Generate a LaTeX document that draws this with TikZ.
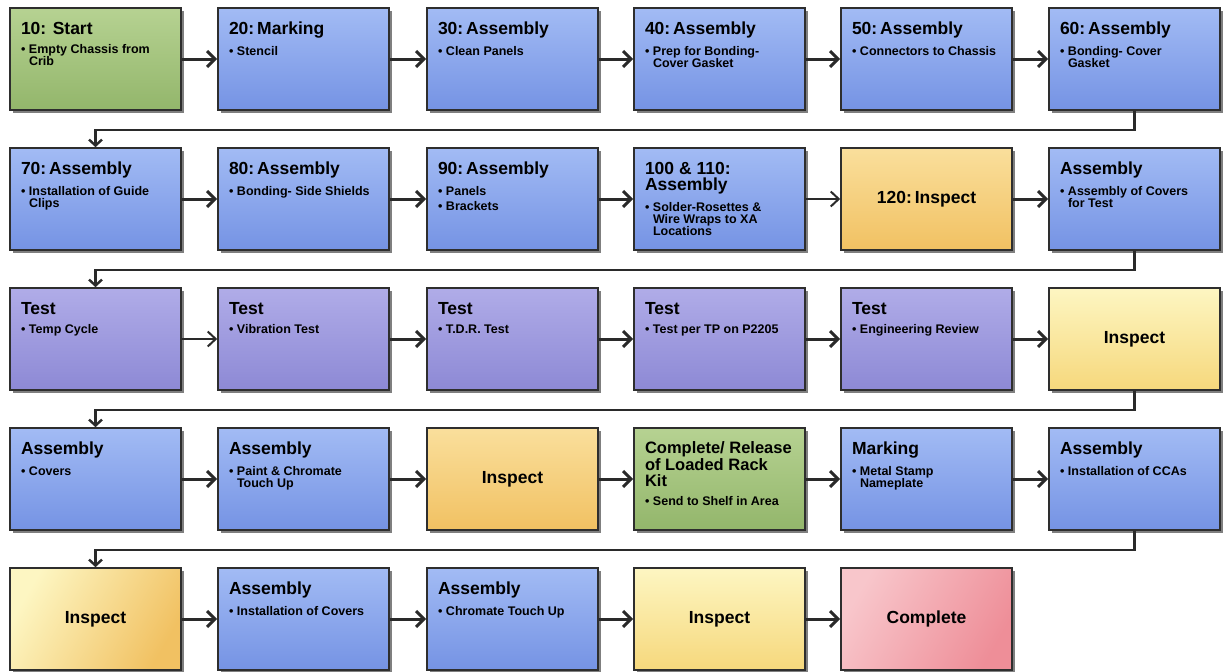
\documentclass[tikz,border=0pt]{standalone}
\usepackage{fontspec}
\setmainfont{Liberation Sans}
\usetikzlibrary{arrows.meta,shadows}

% box fills
\definecolor{bluT}{HTML}{A2BBF4}\definecolor{bluM}{HTML}{8BA7EE}\definecolor{bluB}{HTML}{7593E4}
\definecolor{grnT}{HTML}{B6D292}\definecolor{grnB}{HTML}{93B66B}
\definecolor{purT}{HTML}{B0ACE8}\definecolor{purM}{HTML}{9F9BDF}\definecolor{purB}{HTML}{8D89D5}
\definecolor{orgT}{HTML}{FADF9C}\definecolor{orgB}{HTML}{F1C162}
\definecolor{yelT}{HTML}{FDF6C2}\definecolor{yelB}{HTML}{F6D87C}
\definecolor{pnkT}{HTML}{F8C6CB}\definecolor{pnkB}{HTML}{EE8E98}
\definecolor{edge}{HTML}{2E2E2E}
\definecolor{wire}{HTML}{2A2A2A}

% step box text: bold title, then bullet lines with hanging indent
\newcommand\ttl[1]{{\fontsize{17.5}{16.5}\selectfont\bfseries #1\par}}
\newcommand\itm[1]{{\fontsize{12.5}{12}\selectfont\bfseries\hangindent=8pt\hangafter=1\noindent\hbox to 8pt{\textbullet\hfil}#1\par}}
\newcommand\stp[2]{\hspace*{11pt}\begin{minipage}[c][74pt][t]{156pt}\raggedright\ttl{#1}\vspace{7pt}#2\end{minipage}\hspace*{4pt}}

\tikzset{
  stepbox/.style={draw=edge, line width=1.6pt, minimum width=171pt, minimum height=102pt,
    inner sep=0pt, font=\bfseries\fontsize{17.5}{17}\selectfont,
    drop shadow={shadow xshift=2.5pt, shadow yshift=-2.5pt, opacity=0.5, fill=black}},
  blu/.style={stepbox, top color=bluT, middle color=bluM, bottom color=bluB},
  grn/.style={stepbox, top color=grnT, bottom color=grnB},
  pur/.style={stepbox, top color=purT, middle color=purM, bottom color=purB},
  org/.style={stepbox, top color=orgT, bottom color=orgB},
  yel/.style={stepbox, top color=yelT, bottom color=yelB},
  yor/.style={stepbox, left color=yelT, right color=orgB, shading angle=60},
  pnk/.style={stepbox, left color=pnkT, right color=pnkB, shading angle=60},
  flow/.style={draw=wire, line width=3pt, -{Straight Barb[length=8pt,width=16pt]}},
  liteflow/.style={draw=wire, line width=2pt, -{Straight Barb[length=8pt,width=15pt]}},
  ret/.style={draw=wire, line width=2.4pt, -{Straight Barb[length=6pt,width=13pt]}}
}

\begin{document}
\begin{tikzpicture}[x=1pt,y=-1pt]
\useasboundingbox[fill=white] (0,0) rectangle (1224,672);

% row 1
\node[grn] (a1) at (95.5,59)   {\stp{10: Start}{\itm{Empty Chassis from\newline Crib}}};
\node[blu] (a2) at (303.5,59)  {\stp{20:\,Marking}{\itm{Stencil}}};
\node[blu] (a3) at (512.5,59)  {\stp{30:\,Assembly}{\itm{Clean Panels}}};
\node[blu] (a4) at (719.5,59)  {\stp{40:\,Assembly}{\itm{Prep for Bonding-\newline Cover Gasket}}};
\node[blu] (a5) at (926.5,59)  {\stp{50:\,Assembly}{\itm{Connectors to Chassis}}};
\node[blu] (a6) at (1134.5,59) {\stp{60:\,Assembly}{\itm{Bonding- Cover\newline Gasket}}};

% row 2
\node[blu] (b1) at (95.5,199)   {\stp{70:\,Assembly}{\itm{Installation of Guide\newline Clips}}};
\node[blu] (b2) at (303.5,199)  {\stp{80:\,Assembly}{\itm{Bonding- Side Shields}}};
\node[blu] (b3) at (512.5,199)  {\stp{90:\,Assembly}{\itm{Panels}\vspace{3pt}\itm{Brackets}}};
\node[blu] (b4) at (719.5,199)  {\stp{100 \& 110:\\Assembly}{\itm{Solder-Rosettes \&\newline Wire Wraps to XA\newline Locations}}};
\node[org] (b5) at (926.5,199)  {120:\,Inspect};
\node[blu] (b6) at (1134.5,199) {\stp{Assembly}{\itm{Assembly of Covers\newline for Test}}};

% row 3
\node[pur] (c1) at (95.5,339)   {\stp{Test}{\itm{Temp Cycle}}};
\node[pur] (c2) at (303.5,339)  {\stp{Test}{\itm{Vibration Test}}};
\node[pur] (c3) at (512.5,339)  {\stp{Test}{\itm{T.D.R. Test}}};
\node[pur] (c4) at (719.5,339)  {\stp{Test}{\itm{Test per TP on P2205}}};
\node[pur] (c5) at (926.5,339)  {\stp{Test}{\itm{Engineering Review}}};
\node[yel] (c6) at (1134.5,339) {Inspect};

% row 4
\node[blu] (d1) at (95.5,479)   {\stp{Assembly}{\itm{Covers}}};
\node[blu] (d2) at (303.5,479)  {\stp{Assembly}{\itm{Paint \& Chromate\newline Touch Up}}};
\node[org] (d3) at (512.5,479)  {Inspect};
\node[grn] (d4) at (719.5,479)  {\stp{\fontsize{16.5}{16.5}\selectfont Complete/ Release\\of Loaded Rack\\Kit}{\itm{Send to Shelf in Area}}};
\node[blu] (d5) at (926.5,479)  {\stp{Marking}{\itm{Metal Stamp\newline Nameplate}}};
\node[blu] (d6) at (1134.5,479) {\stp{Assembly}{\itm{Installation of CCAs}}};

% row 5
\node[yor] (e1) at (95.5,619)   {Inspect};
\node[blu] (e2) at (303.5,619)  {\stp{Assembly}{\itm{Installation of Covers}}};
\node[blu] (e3) at (512.5,619)  {\stp{Assembly}{\itm{Chromate Touch Up}}};
\node[yel] (e4) at (719.5,619)  {Inspect};
\node[pnk] (e5) at (926.5,619)  {Complete};

% arrows along each row
\draw[flow] (a1.east) -- (a2.west);
\draw[flow] (a2.east) -- (a3.west);
\draw[flow] (a3.east) -- (a4.west);
\draw[flow] (a4.east) -- (a5.west);
\draw[flow] (a5.east) -- (a6.west);

\draw[flow] (b1.east) -- (b2.west);
\draw[flow] (b2.east) -- (b3.west);
\draw[flow] (b3.east) -- (b4.west);
\draw[liteflow] (b4.east) -- (b5.west);
\draw[flow] (b5.east) -- (b6.west);

\draw[liteflow] (c1.east) -- (c2.west);
\draw[flow] (c2.east) -- (c3.west);
\draw[flow] (c3.east) -- (c4.west);
\draw[flow] (c4.east) -- (c5.west);
\draw[flow] (c5.east) -- (c6.west);

\draw[flow] (d1.east) -- (d2.west);
\draw[flow] (d2.east) -- (d3.west);
\draw[flow] (d3.east) -- (d4.west);
\draw[flow] (d4.east) -- (d5.west);
\draw[flow] (d5.east) -- (d6.west);

\draw[flow] (e1.east) -- (e2.west);
\draw[flow] (e2.east) -- (e3.west);
\draw[flow] (e3.east) -- (e4.west);
\draw[flow] (e4.east) -- (e5.west);

% wrap-around connectors between rows
\draw[ret] (a6.south) -- ([yshift=-19pt]a6.south) -| (b1.north);
\draw[ret] (b6.south) -- ([yshift=-19pt]b6.south) -| (c1.north);
\draw[ret] (c6.south) -- ([yshift=-19pt]c6.south) -| (d1.north);
\draw[ret] (d6.south) -- ([yshift=-19pt]d6.south) -| (e1.north);
\end{tikzpicture}
\end{document}
